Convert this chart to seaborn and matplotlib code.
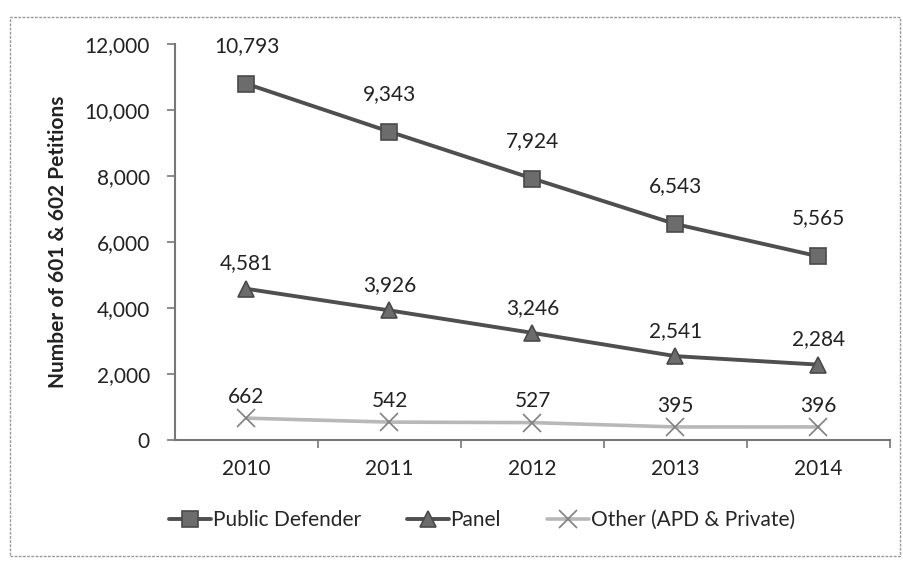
import matplotlib
matplotlib.use("Agg")
import matplotlib.pyplot as plt
import seaborn as sns
import pandas as pd
from matplotlib.patches import Rectangle

years = ["2010", "2011", "2012", "2013", "2014"]
public_defender = [10793, 9343, 7924, 6543, 5565]
panel = [4581, 3926, 3246, 2541, 2284]
other = [662, 542, 527, 395, 396]

series_names = ["Public Defender", "Panel", "Other (APD & Private)"]
series_values = [public_defender, panel, other]

df = pd.concat(
    [pd.DataFrame({"Year": years, "Count": vals, "Series": name})
     for name, vals in zip(series_names, series_values)],
    ignore_index=True,
)

sns.set_theme(style="white")
plt.rcParams["font.family"] = ["Lato", "DejaVu Sans"]

FS = 15
fig = plt.figure(figsize=(9.04, 5.61), dpi=100)
ax = fig.add_axes([175 / 904, 1 - 440 / 561, (890 - 175) / 904, (440 - 44) / 561])

styles = {
    "Public Defender": dict(color="#4f4f4f", marker="s", mfc="#6c6c6c", mec="#4a4a4a", ms=12, lw=2.8),
    "Panel": dict(color="#4f4f4f", marker="^", mfc="#6c6c6c", mec="#4a4a4a", ms=12, lw=2.8),
    "Other (APD & Private)": dict(color="#b8b8b8", marker="x", mfc="#808080", mec="#808080", ms=13, lw=2.6),
}
label_offsets = {"Public Defender": 20, "Panel": 11, "Other (APD & Private)": 8}

for name in series_names:
    st = styles[name]
    sub = df[df["Series"] == name]
    sns.lineplot(
        data=sub, x="Year", y="Count", ax=ax, label=name,
        color=st["color"], marker=st["marker"], markersize=st["ms"],
        markerfacecolor=st["mfc"], markeredgecolor=st["mec"], markeredgewidth=1.2,
        linewidth=st["lw"], sort=False,
    )
    for i, v in enumerate(sub["Count"]):
        ax.annotate(f"{v:,}", (i, v), xytext=(0, label_offsets[name]),
                    textcoords="offset points", ha="center", va="bottom",
                    fontsize=FS, color="#222222")

ax.set_xlim(-0.5, 4.5)
ax.set_ylim(0, 12000)
ax.set_yticks(range(0, 12001, 2000))
ax.set_yticklabels([f"{t:,}" for t in range(0, 12001, 2000)], fontsize=FS, color="#222222")
ax.set_xticks(range(len(years)))
ax.set_xticklabels(years, fontsize=FS, color="#222222")
ax.tick_params(axis="x", length=0, pad=14)
ax.tick_params(axis="y", length=6, width=1.2, color="#777777", direction="out", left=True, pad=12)
# category separators on the x axis
ax.set_xticks([0.5, 1.5, 2.5, 3.5, 4.5], minor=True)
ax.tick_params(axis="x", which="minor", length=6, width=1.2, color="#777777", direction="out", bottom=True)

for side in ["top", "right"]:
    ax.spines[side].set_visible(False)
for side in ["left", "bottom"]:
    ax.spines[side].set_color("#777777")
    ax.spines[side].set_linewidth(1.5)

ax.set_xlabel("")
ax.set_ylabel("Number of 601 & 602 Petitions", fontsize=FS, fontweight="bold", color="#222222", labelpad=12)

ax.legend_.remove()
handles, labels = ax.get_legend_handles_labels()
fig.legend(handles, labels, loc="center", bbox_to_anchor=(482 / 904, 1 - 520 / 561),
           ncol=3, frameon=False, fontsize=FS, handlelength=2.0, handletextpad=0.1,
           columnspacing=2.2)

fig.add_artist(Rectangle((10 / 904, 1 - 556 / 561), 890 / 904, 539 / 561,
                         transform=fig.transFigure, fill=False,
                         edgecolor="#999999", linewidth=1.0, linestyle=(0, (2, 1))))

fig.savefig("out.png", dpi=100, facecolor="white")
